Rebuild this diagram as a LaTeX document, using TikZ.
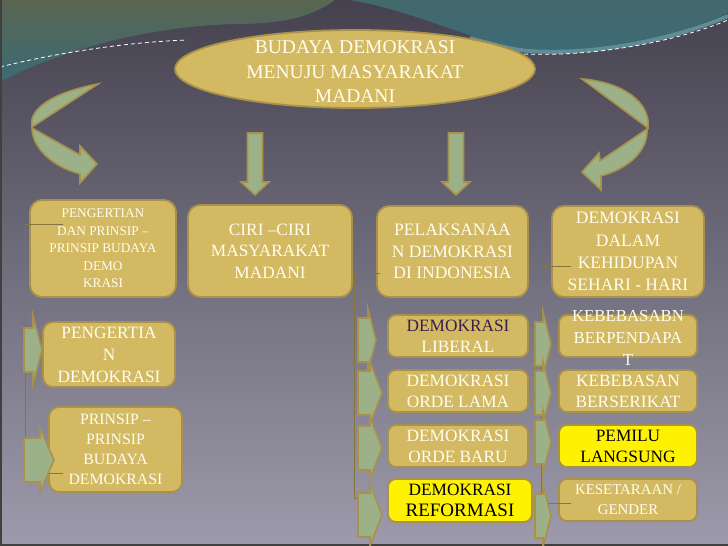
\documentclass[tikz,border=0pt]{standalone}
\usepackage{fontspec}
\setmainfont{Liberation Serif}
\usetikzlibrary{shapes.geometric}

\definecolor{bgtop}{HTML}{45414F}
\definecolor{bgbot}{HTML}{9D9BAB}
\definecolor{tealtop}{HTML}{5A6650}
\definecolor{tealbot}{HTML}{3B6A77}
\definecolor{tealrim}{HTML}{5E8D96}
\definecolor{gold}{HTML}{D3B962}
\definecolor{goldedge}{HTML}{A8914A}
\definecolor{sage}{HTML}{9DB189}
\definecolor{plum}{HTML}{3A1E4E}
\definecolor{cream}{HTML}{FFFDF0}

\tikzset{
  box/.style={draw=goldedge, fill=gold, line width=1.8pt, rounded corners=12pt,
    align=center, text=cream, inner sep=0pt},
  smallbox/.style={box, rounded corners=8pt, minimum width=140pt, minimum height=42pt,
    font=\fontsize{17.3}{21}\selectfont},
  hotbox/.style={smallbox, fill=yellow, text=black},
  txt/.style={align=center, text=cream, inner sep=0pt},
  link/.style={draw=goldedge!80!black, line width=0.9pt},
  blockarrow/.style={fill=sage, draw=goldedge, line width=1.6pt, line join=miter},
}

% right block arrow: body x, neck x, tip x, centre y, body half, head half
\newcommand{\rarrow}[6]{%
  \filldraw[blockarrow] (#1,#4-#5) -- (#2,#4-#5) -- (#2,#4-#6) -- (#3,#4)
    -- (#2,#4+#6) -- (#2,#4+#5) -- (#1,#4+#5) -- cycle;}
% down block arrow: centre x, top y, neck y, tip y, body half, head half
\newcommand{\darrow}[6]{%
  \filldraw[blockarrow] (#1-#5,#2) -- (#1+#5,#2) -- (#1+#5,#3) -- (#1+#6,#3)
    -- (#1,#4) -- (#1-#6,#3) -- (#1-#5,#3) -- cycle;}

\begin{document}
\begin{tikzpicture}[x=1pt,y=-1pt]
    % Slide background
    \shade[top color=bgtop, bottom color=bgbot] (0,0) rectangle (728,546);
    \useasboundingbox (0,0) rectangle (728,546);

    % Teal swoosh at the top
    \shade[top color=tealtop, bottom color=tealbot] (0,0) -- (335,0)
      .. controls (310,18) and (280,24) .. (235,24)
      .. controls (150,26) and (60,50) .. (0,82) -- cycle;
    \shade[top color=tealbot!70!tealtop, bottom color=tealbot] (350,0)
      .. controls (420,12) and (470,42) .. (530,49)
      .. controls (600,55) and (680,35) .. (728,13) -- (728,0) -- cycle;
    \draw[tealrim, line width=4pt] (470,38) .. controls (500,46) and (515,50) .. (530,51)
      .. controls (600,56) and (680,37) .. (728,16);
    \draw[white!85, line width=0.8pt, dash pattern=on 4pt off 3pt]
      (0,67) .. controls (60,52) and (130,42) .. (187,40);
    \draw[white!85, line width=0.8pt, dash pattern=on 4pt off 3pt]
      (524,54) .. controls (600,57) and (680,40) .. (728,20);

    % Frame edges
    \draw[black!75, line width=2pt] (1,0) -- (1,545) -- (728,545);

    % Title
    \node[ellipse, draw=goldedge, fill=gold, line width=1.8pt, minimum width=360pt,
      minimum height=78pt, inner sep=0pt,
      label={[txt, yshift=-3pt, font=\fontsize{19.5}{24.5}\selectfont]center:BUDAYA DEMOKRASI\\MENUJU MASYARAKAT\\MADANI}]
      (budaya) at (355,69) {};

    % Curved arrows
    \filldraw[blockarrow] (98,84) .. controls (55,92) and (28,108) .. (32,127) -- cycle;
    \filldraw[blockarrow] (32,128) .. controls (32,146) and (50,166) .. (80,174)
      -- (80,183) -- (97,164) -- (80,146) -- (80,155) -- cycle;
    \filldraw[blockarrow] (582,79) .. controls (622,82) and (651,102) .. (648,128) -- cycle;
    \filldraw[blockarrow] (647,129) .. controls (648,150) and (630,168) .. (601,176)
      -- (601,190) -- (582,172) -- (599,153) -- (600,161) -- cycle;

    % Down arrows
    \darrow{255}{133}{182}{195}{7.5}{14}
    \darrow{456}{133}{182}{195}{7.5}{14}

    % Top row
    \node[box, font=\fontsize{13.3}{17.5}\selectfont, minimum width=146pt, minimum height=97pt]
      (pengertian) at (103,248.5) {PENGERTIAN\\DAN PRINSIP --\\PRINSIP BUDAYA\\DEMO\\KRASI};
    \node[box, font=\fontsize{17.3}{21.5}\selectfont, minimum width=164pt, minimum height=92pt]
      (ciri) at (270,251) {CIRI --CIRI\\MASYARAKAT\\MADANI};
    \node[box, font=\fontsize{17.5}{21.5}\selectfont, minimum width=151pt, minimum height=91pt]
      (pelaksanaan) at (452.5,251.5) {PELAKSANAA\\N DEMOKRASI\\DI INDONESIA};
    \node[box, font=\fontsize{17.5}{22.3}\selectfont, minimum width=152pt, minimum height=91pt]
      (sehari) at (628,251.5) {DEMOKRASI\\DALAM\\KEHIDUPAN\\SEHARI - HARI};

    % Left column
    \node[box, rounded corners=10pt, font=\fontsize{17.3}{22}\selectfont, minimum width=132pt,
      minimum height=65pt] (pengdemo) at (109,354.5) {PENGERTIA\\N\\DEMOKRASI};
    \node[box, rounded corners=10pt, font=\fontsize{15.8}{20}\selectfont, minimum width=133pt,
      minimum height=85pt] (prinsip) at (115.5,449.5) {PRINSIP --\\PRINSIP\\BUDAYA\\DEMOKRASI};

    % Middle column
    \node[smallbox] (liberal) at (458,336) {{\color{plum}DEMOKRASI}\\LIBERAL};
    \node[smallbox] (ordelama) at (458,391) {DEMOKRASI\\ORDE LAMA};
    \node[smallbox] (ordebaru) at (458,446) {DEMOKRASI\\ORDE BARU};
    \node[hotbox, minimum width=144pt, minimum height=43pt] (reformasi) at (460,500.5)
      {DEMOKRASI\\{\fontsize{19}{21}\selectfont REFORMASI}};

    % Right column
    \node[smallbox, minimum width=138pt,
      label={[txt, font=\fontsize{16.8}{22}\selectfont, yshift=-2pt]center:KEBEBASABN\\BERPENDAPA\\T}]
      (pendapat) at (628,336) {};
    \node[smallbox, minimum width=138pt] (serikat) at (628,391) {KEBEBASAN\\BERSERIKAT};
    \node[hotbox, minimum width=138pt] (pemilu) at (628,446) {PEMILU\\LANGSUNG};
    \node[smallbox, minimum width=138pt, font=\fontsize{14.9}{20}\selectfont]
      (gender) at (628,500) {KESETARAAN /\\GENDER};

    % Hierarchy lines
    \coordinate (pengertian-in) at (63,224);
    \coordinate (prinsip-in) at (63,473);
    \draw[link] (pengertian-in) -- (25,224) -- (25,473) -- (prinsip-in);
    \coordinate (pelaksanaan-in) at (380,273);
    \coordinate (reformasi-in) at (362,498);
    \draw[link] (pelaksanaan-in) -- (354,273) -- (354,498) -- (reformasi-in);
    \coordinate (sehari-in) at (571,266);
    \coordinate (gender-in) at (571,503);
    \draw[link] (sehari-in) -- (541,266) -- (541,503) -- (gender-in);

    % Block arrows
    \rarrow{24}{33}{42}{350}{22}{34}
    \rarrow{24}{40}{54}{460}{22}{32}
    \rarrow{358}{368}{376}{340}{22}{31}
    \rarrow{358}{370}{382}{393}{22}{31}
    \rarrow{358}{370}{382}{448}{22}{31}
    \rarrow{358}{370}{382}{515}{22}{31}
    \rarrow{535}{543}{551}{344}{22}{32}
    \rarrow{535}{543}{551}{393}{22}{31}
    \rarrow{535}{543}{551}{442}{22}{31}
    \rarrow{535}{543}{551}{516}{22}{31}
\end{tikzpicture}
\end{document}
